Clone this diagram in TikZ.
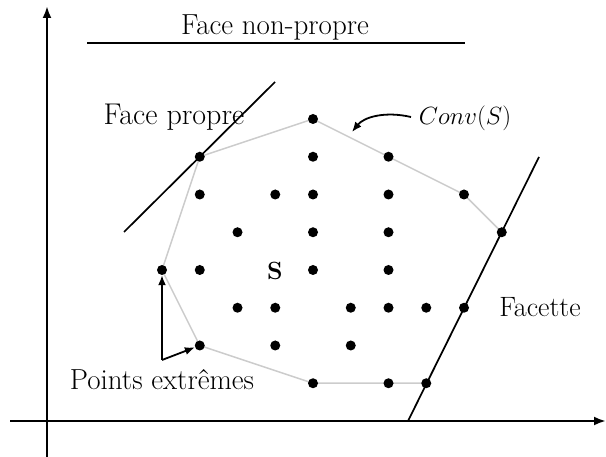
\documentclass[tikz,border=0pt]{standalone}
\usetikzlibrary{arrows.meta,backgrounds}
\begin{document}
\begin{tikzpicture}[x=1pt,y=-1pt,
  dot/.style={circle,fill=black,inner sep=0pt,minimum size=10pt},
  axis/.style={line width=2.7pt,-{Latex[length=12pt,width=9pt]}},
  faceline/.style={line width=1.7pt},
  hull/.style={line width=1.5pt,color=black!20},
  lbl/.style={font=\fontsize{29}{33}\selectfont,inner sep=0pt,anchor=base},
  ptr/.style={line width=1.8pt,-{Latex[length=10pt,width=8pt]}}]
\useasboundingbox (0,0) rectangle (606,457);
% axes
\coordinate (xa) at (10,421); \coordinate (xb) at (606,421);
\coordinate (ya) at (47,457); \coordinate (yb) at (47,6);
\draw[axis] (xa) -- (xb);
\draw[axis] (ya) -- (yb);
% points
\foreach \i/\j in {4/0, 1/1,4/1,6/1, 1/2,3/2,4/2,6/2,8/2, 2/3,4/3,6/3,9/3,
  0/4,1/4,4/4,6/4, 2/5,3/5,5/5,6/5,7/5,8/5, 1/6,3/6,5/6, 4/7,6/7,7/7}
  \node[dot] (p\i\j) at ({162+37.75*\i},{119+37.75*\j}) {};
% hull
\begin{scope}[on background layer]
\draw[hull] (p11.center) -- (p40.center) -- (p61.center) -- (p82.center) -- (p93.center)
  -- (p77.center) -- (p47.center) -- (p16.center) -- (p04.center) -- cycle;
\end{scope}
% supporting lines
\coordinate (fa) at (408,421); \coordinate (fb) at (539,157);
\draw[faceline] (fa) -- (fb);
\coordinate (pa) at (124,232); \coordinate (pb) at (275,82);
\draw[faceline] (pa) -- (pb);
\coordinate (na) at (87,43); \coordinate (nb) at (465,43);
\draw[faceline] (na) -- (nb);
% labels
\node[lbl] (tnp) at (275,35) {Face non-propre};
\node[lbl,font=\fontsize{30}{34}\selectfont] (tfp) at (174,125) {Face propre};
\node[lbl,font=\fontsize{27}{31}\selectfont] (tconv) at (465,125) {$Conv(S)$};
\node[lbl,font=\fontsize{25}{29}\selectfont] (ts) at (275,280) {$\mathbf{S}$};
\node[lbl,font=\fontsize{28}{32}\selectfont] (tfac) at (540,317) {Facette};
\node[lbl] (tpe) at (162,390) {Points extr\^emes};
% arrows
\coordinate (cs) at (411,117);
\coordinate (ce) at (352,132);
\draw[ptr] (cs) .. controls (385,111) and (364,117) .. (ce);
\coordinate (pc) at (162,360);
\draw[ptr] (pc) -- (p04);
\draw[ptr] (pc) -- (p16);
\end{tikzpicture}
\end{document}
